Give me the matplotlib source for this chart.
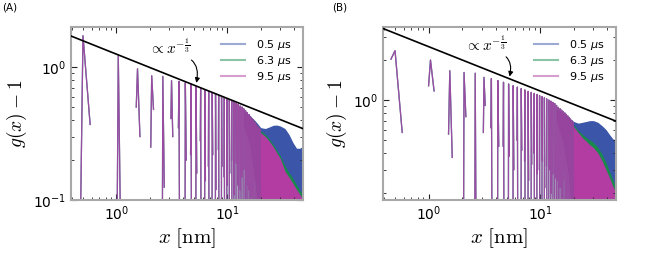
import numpy as np
import matplotlib
matplotlib.use("Agg")
import matplotlib.pyplot as plt
from matplotlib.ticker import LogLocator, NullFormatter

# ---------------- data ----------------
series_labels = ["0.5 $\\mu$s", "6.3 $\\mu$s", "9.5 $\\mu$s"]

# positions of the individually resolved peaks of g(x)-1 [nm]
peak_x = [0.50, 1.04, 1.55, 2.08, 2.62, 3.14, 3.66, 4.18, 4.70, 5.22, 5.74, 6.26,
          6.78, 7.30, 7.82, 8.34, 8.86, 9.38, 9.90, 10.42, 10.94, 11.46, 11.98,
          12.50, 13.02, 13.54, 14.06, 14.58, 15.10, 15.62, 16.14, 16.66, 17.18,
          17.70, 18.22, 18.74, 19.26, 19.78]

# panel A: peak tops, value just before and just after each peak (<0.1 -> off axis)
peak_top_A = [1.72, 1.22, 0.97, 0.86, 0.85, 0.79, 0.78, 0.76, 0.74, 0.715, 0.695,
              0.675, 0.655, 0.64, 0.625, 0.61, 0.60, 0.585, 0.575, 0.565, 0.555,
              0.545, 0.535, 0.525, 0.51, 0.50, 0.485, 0.47, 0.455, 0.44, 0.425,
              0.41, 0.40, 0.385, 0.37, 0.36, 0.35, 0.34]
peak_left_A = [0.01, 0.01, 0.50, 0.25, 0.01, 0.41, 0.35, 0.01, 0.22, 0.01, 0.28,
               0.01, 0.18, 0.01, 0.01, 0.24, 0.01, 0.15, 0.01, 0.01, 0.20, 0.01,
               0.01, 0.13, 0.01, 0.01, 0.17, 0.01, 0.01, 0.12, 0.01, 0.01, 0.01,
               0.14, 0.01, 0.01, 0.01, 0.01]
peak_right_A = [0.37, 0.01, 0.30, 0.48, 0.125, 0.30, 0.01, 0.20, 0.01, 0.16, 0.01,
                0.14, 0.01, 0.22, 0.12, 0.01, 0.18, 0.01, 0.13, 0.16, 0.01, 0.11,
                0.19, 0.01, 0.12, 0.15, 0.01, 0.01, 0.13, 0.01, 0.01, 0.11, 0.01,
                0.01, 0.01, 0.12, 0.01, 0.01]

# panel B
peak_top_B = [2.35, 2.00, 1.66, 1.61, 1.59, 1.48, 1.45, 1.40, 1.36, 1.32, 1.28,
              1.25, 1.22, 1.19, 1.16, 1.14, 1.12, 1.10, 1.08, 1.06, 1.04, 1.02,
              1.00, 0.98, 0.96, 0.94, 0.91, 0.88, 0.86, 0.84, 0.82, 0.80, 0.78,
              0.76, 0.74, 0.72, 0.70, 0.68]
peak_left_B = [2.03, 1.28, 0.555, 0.01, 0.01, 0.57, 0.62, 0.01, 0.45, 0.01, 0.01,
               0.50, 0.01, 0.35, 0.01, 0.01, 0.40, 0.01, 0.30, 0.01, 0.01, 0.32,
               0.01, 0.01, 0.28, 0.01, 0.01, 0.25, 0.01, 0.01, 0.01, 0.30, 0.01,
               0.01, 0.01, 0.01, 0.01, 0.01]
peak_right_B = [0.57, 1.17, 0.37, 0.75, 0.01, 0.91, 0.01, 0.45, 0.01, 0.38, 0.30,
                0.01, 0.42, 0.01, 0.25, 0.33, 0.01, 0.28, 0.01, 0.35, 0.22, 0.01,
                0.30, 0.20, 0.01, 0.26, 0.01, 0.01, 0.22, 0.01, 0.25, 0.01, 0.01,
                0.20, 0.01, 0.01, 0.01, 0.01]

# dense (unresolved) oscillation region: envelopes
band_x = [14, 16, 18, 20, 22, 24, 26, 28, 30, 33, 36, 39, 42, 45, 48, 50]
band_low_A = [0.36, 0.26, 0.13, 0.05, 0.05, 0.05, 0.05, 0.05, 0.05, 0.05, 0.05,
              0.05, 0.05, 0.05, 0.05, 0.05]
band_top_A = {
    "blue":    [0.47, 0.43, 0.39, 0.35, 0.345, 0.355, 0.365, 0.366, 0.36, 0.345,
                0.31, 0.27, 0.245, 0.245, 0.255, 0.26],
    "green":   [0.46, 0.42, 0.37, 0.33, 0.31, 0.285, 0.26, 0.235, 0.215, 0.18,
                0.16, 0.145, 0.13, 0.118, 0.11, 0.107],
    "magenta": [0.45, 0.41, 0.36, 0.32, 0.30, 0.275, 0.25, 0.225, 0.205, 0.165,
                0.148, 0.133, 0.12, 0.11, 0.102, 0.098],
}
band_low_B = [0.70, 0.50, 0.28, 0.10, 0.10, 0.10, 0.10, 0.10, 0.10, 0.10, 0.10,
              0.10, 0.10, 0.10, 0.10, 0.10]
band_top_B = {
    "blue":    [0.86, 0.80, 0.74, 0.69, 0.67, 0.68, 0.69, 0.70, 0.70, 0.68, 0.64,
                0.60, 0.55, 0.51, 0.50, 0.50],
    "green":   [0.85, 0.78, 0.71, 0.65, 0.59, 0.55, 0.52, 0.50, 0.48, 0.44, 0.39,
                0.34, 0.29, 0.25, 0.22, 0.21],
    "magenta": [0.84, 0.77, 0.70, 0.63, 0.57, 0.52, 0.49, 0.46, 0.44, 0.40, 0.35,
                0.30, 0.26, 0.225, 0.20, 0.18],
}

# power-law guide  C * x^(-1/3)
guide_x = [0.39, 50.0]
guide_C = {"A": 1.25, "B": 2.52}

# ---------------- styling ----------------
colors = {"blue": "#3b56a8", "green": "#178a4c", "magenta": "#b23ca2"}
legend_order = ["blue", "green", "magenta"]
draw_order = ["green", "blue", "magenta"]

fig = plt.figure(figsize=(6.5, 2.54), dpi=100)
axA = fig.add_axes([71 / 650, 54 / 254, 232 / 650, 173 / 254])
axB = fig.add_axes([383 / 650, 54 / 254, 233 / 650, 173 / 254])

LEFT_W, RIGHT_W = 0.04, 0.08  # spike half-widths (shape)


def spikes(tops, lefts, rights):
    xs, ys = [], []
    for xp, t, l, r in zip(peak_x, tops, lefts, rights):
        xs += [xp - LEFT_W, xp, xp + RIGHT_W, np.nan]
        ys += [l, t, r, np.nan]
    return np.array(xs), np.array(ys)


def draw(ax, tops, lefts, rights, band_low, band_top, C, ylim, ann_xy, ann_txt):
    ax.set_xscale("log")
    ax.set_yscale("log")
    for k in legend_order:
        ax.fill_between(band_x, band_low, band_top[k], color=colors[k],
                        lw=0, zorder=1)
    sx, sy = spikes(tops, lefts, rights)
    for k in draw_order:
        ax.plot(sx, sy, color=colors[k], lw=0.9,
                alpha=0.75 if k == "magenta" else 0.6, zorder=2)
    for k, lab in zip(legend_order, series_labels):
        ax.plot([], [], color=colors[k], lw=1.5, alpha=0.5, label=lab)
    gx = np.array(guide_x)
    ax.plot(gx, C * gx ** (-1 / 3), color="black", lw=1.2, zorder=3)
    ax.set_xlim(0.39, 48)
    ax.set_ylim(*ylim)
    ax.annotate(r"$\propto x^{-\frac{1}{3}}$", xy=ann_xy, xytext=ann_txt,
                textcoords="data", ha="center", va="center", fontsize=11,
                math_fontfamily="cm",
                arrowprops=dict(arrowstyle="-|>", color="black", lw=0.8,
                                mutation_scale=7, shrinkA=0, shrinkB=0,
                                relpos=(0.62, 0.12),
                                connectionstyle="arc3,rad=-0.6"))
    ax.legend(loc="upper right", frameon=False, fontsize=8,
              handlelength=2.2, handletextpad=1.0, labelspacing=0.18,
              borderaxespad=0.6)
    ax.set_xlabel(r"$x\ [\mathrm{nm}]$", fontsize=15, math_fontfamily="cm",
                  labelpad=2)
    ax.set_ylabel(r"$g(x)\:{-}\:1$", fontsize=14, math_fontfamily="cm",
                  labelpad=3)
    for s in ax.spines.values():
        s.set_color("#a8a8a8")
        s.set_linewidth(1.5)
    ax.tick_params(which="both", direction="in", top=True, right=True,
                   colors="#222222", labelcolor="black", labelsize=10)
    ax.tick_params(which="major", length=4, width=0.8)
    ax.tick_params(which="minor", length=2, width=0.6)
    ax.yaxis.set_minor_formatter(NullFormatter())
    ax.xaxis.set_minor_formatter(NullFormatter())
    ax.xaxis.set_minor_locator(LogLocator(base=10, subs=np.arange(2, 10)))
    ax.yaxis.set_minor_locator(LogLocator(base=10, subs=np.arange(2, 10)))


draw(axA, peak_top_A, peak_left_A, peak_right_A, band_low_A, band_top_A,
     guide_C["A"], (0.1, 2.0), (5.25, 0.76), (3.0, 1.40))
draw(axB, peak_top_B, peak_left_B, peak_right_B, band_low_B, band_top_B,
     guide_C["B"], (0.177, 3.54), (5.33, 1.50), (3.25, 2.62))

fig.text(0.003, 0.99, "(A)", fontsize=7.5, va="top", ha="left")
fig.text(332 / 650, 0.99, "(B)", fontsize=7.5, va="top", ha="left")

fig.savefig("out.png", dpi=100)
